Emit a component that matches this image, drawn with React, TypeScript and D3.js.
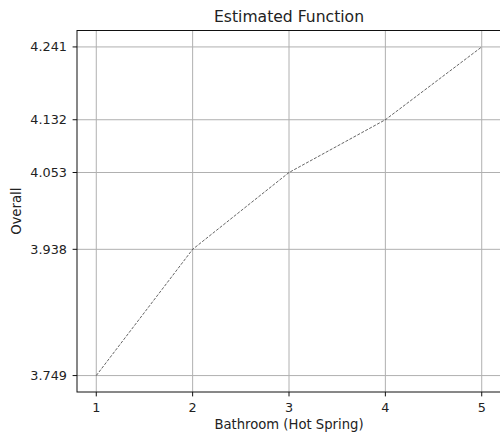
import React from "react";
import * as d3 from "d3";

// Estimated function values per bathroom (hot spring) level
const levels = [1, 2, 3, 4, 5];
const overall = [3.749, 3.938, 4.053, 4.132, 4.241];
const xTicks = [1, 2, 3, 4, 5];
const yTicks = [3.749, 3.938, 4.053, 4.132, 4.241];

const W = 500;
const H = 440;
const plot = { left: 77, right: 501, top: 30.5, bottom: 392 };
const font = "'DejaVu Sans', sans-serif";

export default function App() {
  const xPad = (d3.max(levels)! - d3.min(levels)!) * 0.05;
  const yPad = (d3.max(overall)! - d3.min(overall)!) * 0.05;
  const x = d3
    .scaleLinear()
    .domain([d3.min(levels)! - xPad, d3.max(levels)! + xPad])
    .range([plot.left, plot.right]);
  const y = d3
    .scaleLinear()
    .domain([d3.min(overall)! - yPad, d3.max(overall)! + yPad])
    .range([plot.bottom, plot.top]);

  const line = d3
    .line<number>()
    .x((_, i) => x(levels[i]))
    .y((d) => y(d));

  const cx = (plot.left + plot.right) / 2;
  const cy = (plot.top + plot.bottom) / 2;

  return (
    <svg
      width={W}
      height={H}
      style={{ position: "absolute", left: 0, top: 0, background: "#fff" }}
    >
      {/* grid */}
      <g stroke="#b0b0b0" strokeWidth={1}>
        {xTicks.map((t) => (
          <line key={"gx" + t} x1={x(t)} x2={x(t)} y1={plot.top} y2={plot.bottom} />
        ))}
        {yTicks.map((t) => (
          <line key={"gy" + t} x1={plot.left} x2={plot.right} y1={y(t)} y2={y(t)} />
        ))}
      </g>

      {/* estimated curve */}
      <path
        d={line(overall) ?? ""}
        fill="none"
        stroke="#222"
        strokeWidth={0.7}
        strokeDasharray="3,1.5"
      />

      {/* spines */}
      <rect
        x={plot.left}
        y={plot.top}
        width={plot.right - plot.left}
        height={plot.bottom - plot.top}
        fill="none"
        stroke="#111"
        strokeWidth={1}
      />

      {/* ticks */}
      <g fontFamily={font} fontSize={12.8} fill="#222">
        {xTicks.map((t) => (
          <g key={"xt" + t}>
            <line x1={x(t)} x2={x(t)} y1={plot.bottom} y2={plot.bottom + 4.4} stroke="#111" />
            <text x={x(t)} y={plot.bottom + 19.5} textAnchor="middle">
              {t}
            </text>
          </g>
        ))}
        {yTicks.map((t) => (
          <g key={"yt" + t}>
            <line x1={plot.left - 4.4} x2={plot.left} y1={y(t)} y2={y(t)} stroke="#111" />
            <text x={plot.left - 10} y={y(t)} dy="0.35em" textAnchor="end">
              {t.toFixed(3)}
            </text>
          </g>
        ))}
      </g>

      {/* labels */}
      <text
        x={cx}
        y={429}
        textAnchor="middle"
        fontFamily={font}
        fontSize={13.2}
        fill="#222"
      >
        Bathroom (Hot Spring)
      </text>
      <text
        transform={`translate(21, ${cy}) rotate(-90)`}
        textAnchor="middle"
        fontFamily={font}
        fontSize={13.2}
        fill="#222"
      >
        Overall
      </text>
      <text
        x={cx}
        y={22}
        textAnchor="middle"
        fontFamily={font}
        fontSize={15.6}
        fill="#222"
      >
        Estimated Function
      </text>
    </svg>
  );
}
